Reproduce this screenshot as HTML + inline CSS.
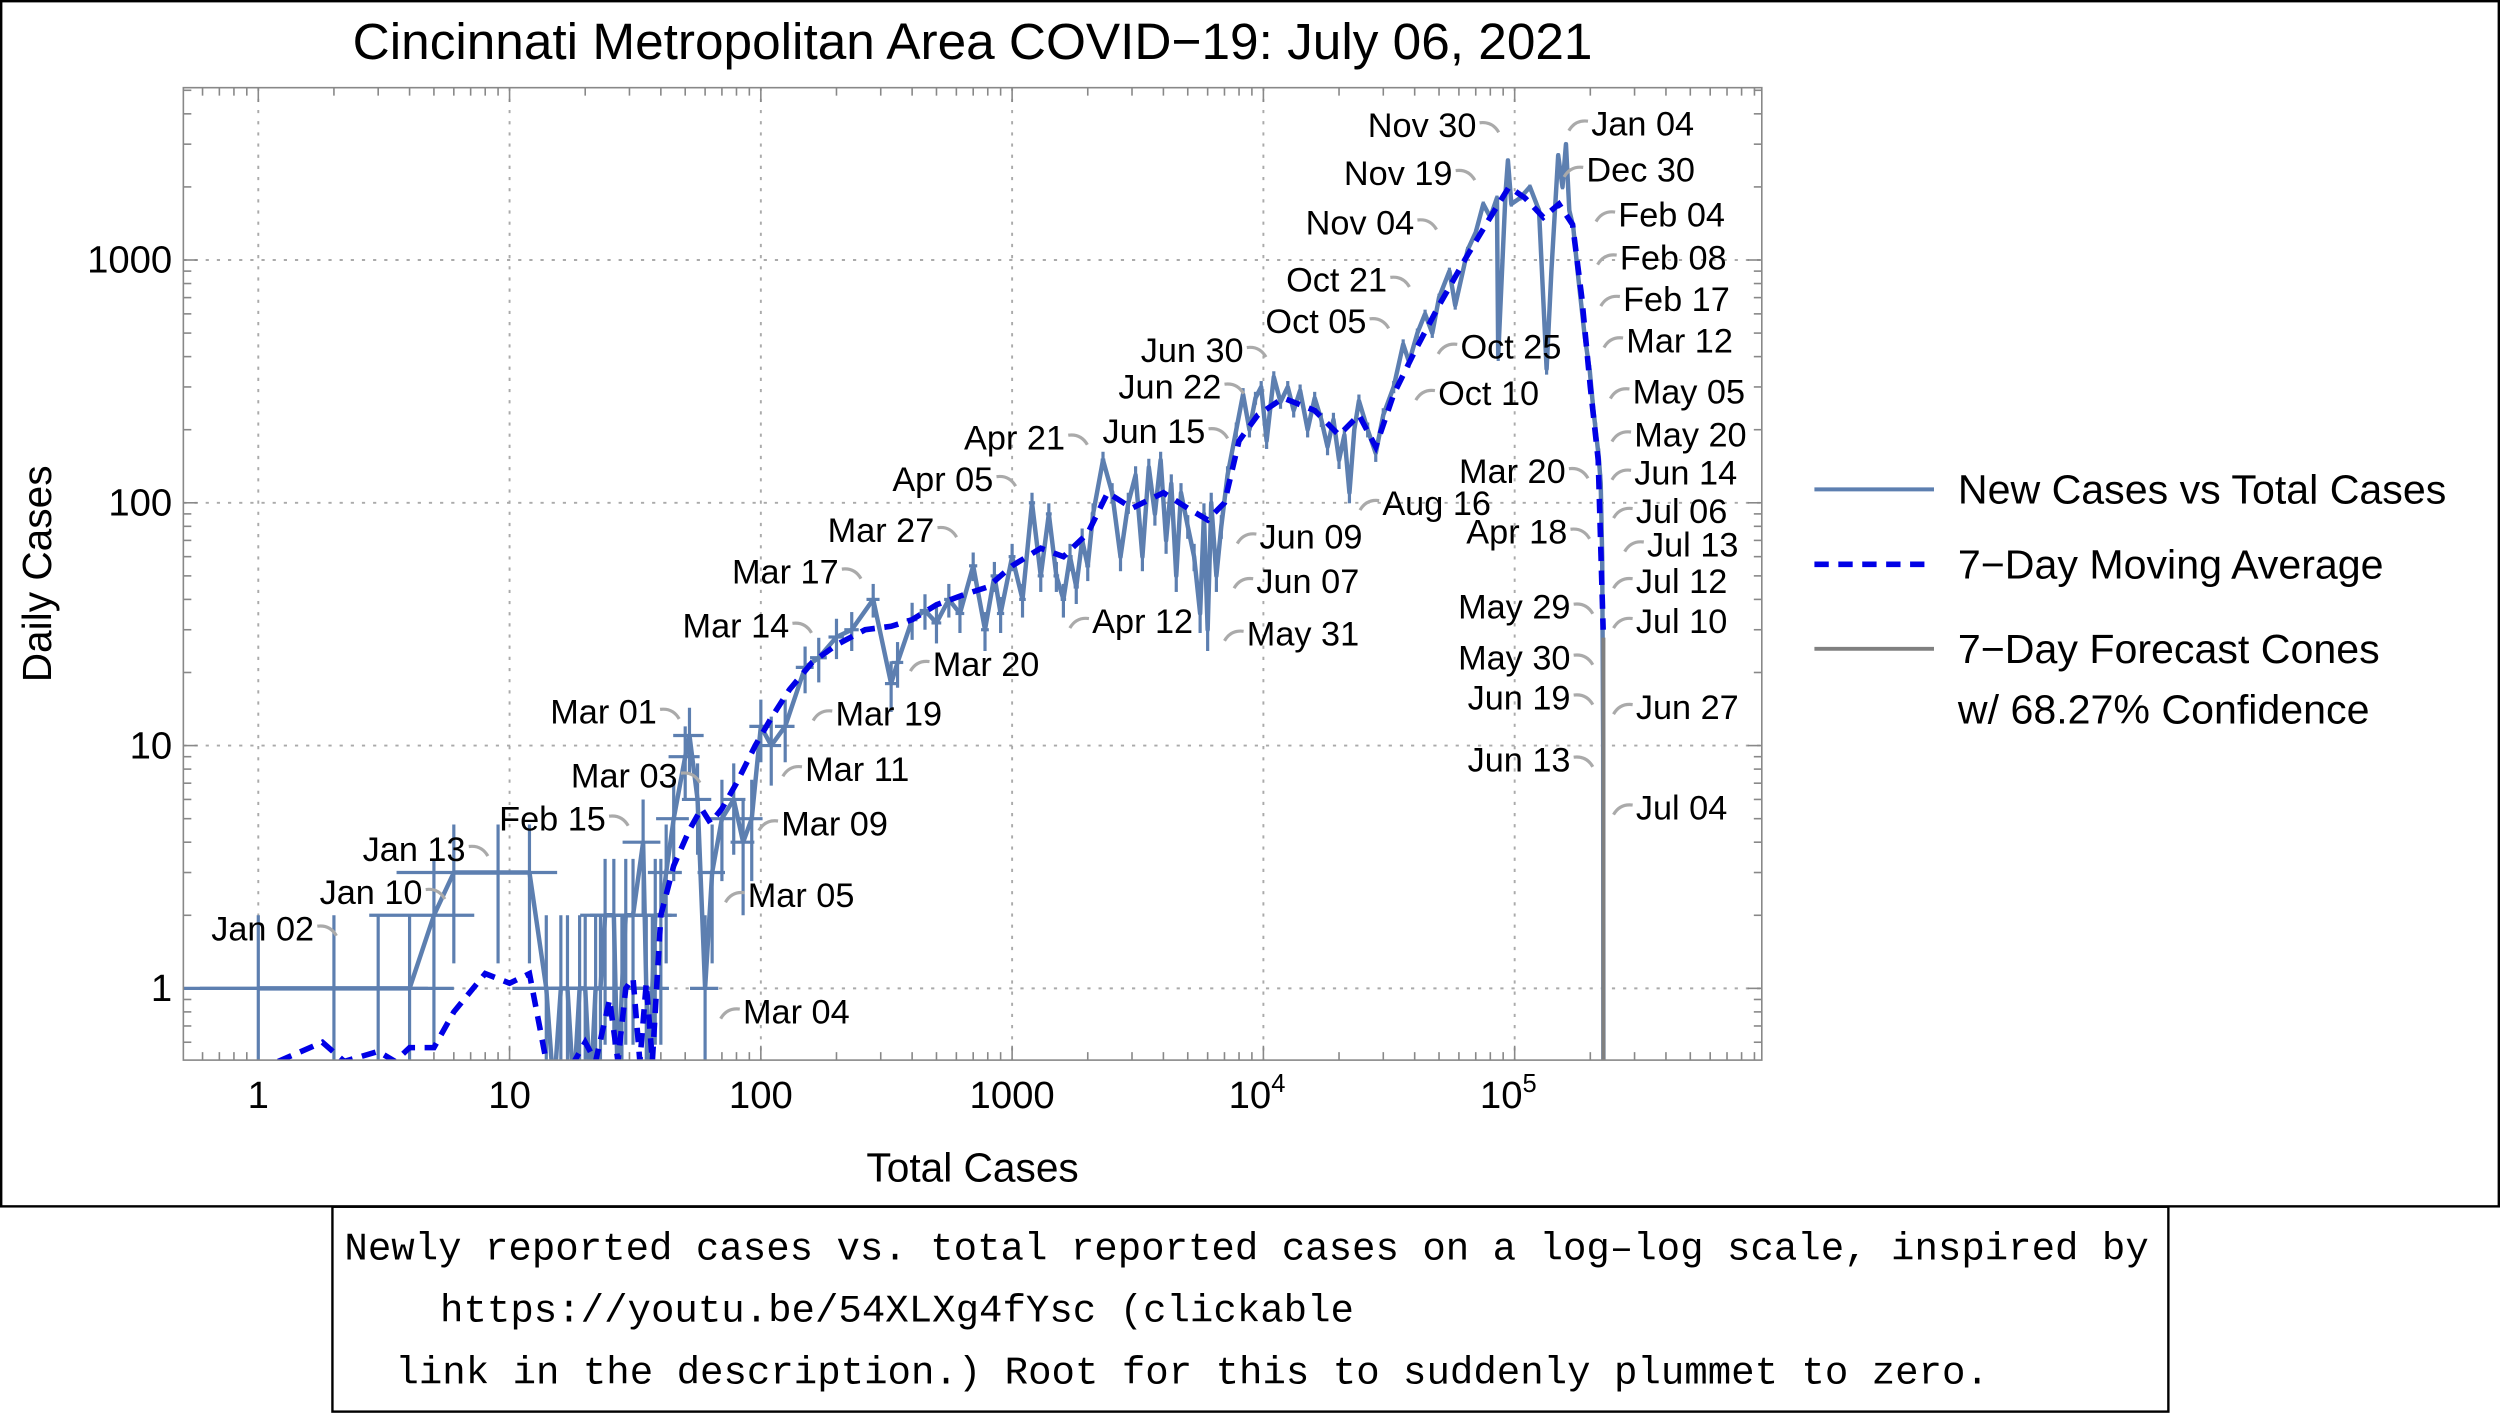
<!DOCTYPE html>
<html><head><meta charset="utf-8"><style>
html,body{margin:0;padding:0;background:#fff}
svg{display:block}
text{font-family:"Liberation Sans",sans-serif}
</style></head><body>
<svg id="chart" width="2500" height="1414" viewBox="0 0 1568 887" preserveAspectRatio="none" xmlns="http://www.w3.org/2000/svg">
<rect x="0" y="0" width="1568" height="887" fill="#fff"/>
<rect x="0.75" y="0.75" width="1566.5" height="756" fill="none" stroke="#000" stroke-width="1.5"/>
<text x="610" y="37" font-size="32.2" text-anchor="middle">Cincinnati Metropolitan Area COVID−19: July 06, 2021</text>
<defs><clipPath id="pc"><rect x="115" y="55" width="990" height="610"/></clipPath></defs>
<g id="grid"></g>
<g id="ticks"></g>
<g id="series" clip-path="url(#pc)"></g>
<g id="labels"></g>
<rect x="115" y="55" width="990" height="610" fill="none" stroke="#888" stroke-width="1"/>
<text x="610" y="741" font-size="25.5" text-anchor="middle">Total Cases</text>
<text x="0" y="0" font-size="25.5" text-anchor="middle" transform="translate(32,360) rotate(-90)">Daily Cases</text>
<g>
<line x1="1138" y1="307" x2="1213" y2="307" stroke="#5d7fb0" stroke-width="2.5"/>
<text x="1228" y="316" font-size="25.8">New Cases vs Total Cases</text>
<line x1="1138" y1="354" x2="1213" y2="354" stroke="#0000e6" stroke-width="3.5" stroke-dasharray="9,6"/>
<text x="1228" y="363" font-size="25.8">7−Day Moving Average</text>
<line x1="1138" y1="407" x2="1213" y2="407" stroke="#808080" stroke-width="2.5"/>
<text x="1228" y="416" font-size="25.8">7−Day Forecast Cones</text>
<text x="1228" y="454" font-size="25.8">w/ 68.27% Confidence</text>
</g>
<rect x="208.5" y="757" width="1151.5" height="128.5" fill="none" stroke="#000" stroke-width="1.5"/>
<g font-size="24.5">
<text x="216" y="790" style="font-family:'Liberation Mono',monospace">Newly reported cases vs. total reported cases on a log–log scale, inspired by</text>
<text x="276" y="829" style="font-family:'Liberation Mono',monospace">https://youtu.be/54XLXg4fYsc (clickable</text>
<text x="248" y="868" style="font-family:'Liberation Mono',monospace">link in the description.) Root for this to suddenly plummet to zero.</text>
</g>
</svg>
<script>
// ---- data ----
const totals = [1,2,3,4,5,6,9,12,14,15,16,17,18,19,20,21,22,23,24,26,27,28,29,31,34,35,36,37,38,40,42,45,50,52,56,60,64,70,78,85,92,100,110,125,150,170,200,230,280,330,350,400,450,500,560,620,700,780,850,900,1000,1100,1200,1300,1400,1500,1600,1700,1800,1900,2000,2100,2300,2500,2700,2900,3100,3300,3500,3700,3900,4100,4300,4500,4700,5000,5300,5600,5800,6000,6200,6500,6800,7200,7800,8300,8800,9300,9800,10300,11000,11700,12500,13200,14000,15000,16000,17000,18000,19000,20000,21000,22000,23000,24000,26000,28000,30000,33000,36000,38000,41000,44000,47000,50000,55000,58000,65000,70000,75000,80000,85000,86000,92000,94000,97000,105000,115000,125000,134000,140000,149000,155000,160000,165000,171000,178000,190000,199000,205000,210000,216000,220000,223000,225000,225500];
const newCases = [1,1,1,1,2,3,3,3,1,0,1,1,0,1,1,0,1,1,2,2,0,1,2,2,4,1,0,1,2,2,3,5,9,11,6,1,3,5,6,4,5,12,10,12,21,23,28,30,40,18,22,33,36,32,40,35,55,30,50,35,60,40,100,50,90,50,40,60,45,70,55,90,150,110,60,100,130,60,140,90,150,70,120,50,110,80,60,35,90,30,100,50,80,130,200,280,200,270,300,180,330,260,300,240,290,200,270,220,170,220,150,190,110,200,263,200,160,230,300,450,380,500,600,500,700,900,650,1100,1300,1700,1500,1800,404,1900,2570,1700,1800,2000,1600,356,900,2700,2000,3000,1600,1370,900,485,350,250,200,155,120,60,10,0];
const avgTotals = [1.2,1.8,2.2,3,3.5,4,5,6,8,10,12,14,16,20,22,25,27,29,31,33,35,37,40,45,52,58,63,70,80,95,110,130,160,200,260,330,400,500,650,800,1000,1300,1600,2000,2400,3000,4000,5000,6000,7000,8000,9500,12000,16000,20000,24000,28000,33000,40000,50000,65000,80000,95000,110000,130000,150000,170000,185000,200000,215000,225000];
const avgCases = [0.5,0.6,0.5,0.55,0.5,0.57,0.57,0.8,1.15,1.05,1.15,0.5,0.4,0.6,0.5,0.9,0.5,1.0,1.1,0.5,1.05,0.5,2,3.2,4.5,5.5,4.8,5.5,7,10,13,17,22,26,30,31,33,38,42,45,55,65,60,75,110,95,110,95,85,100,180,230,270,240,190,230,170,280,420,650,1050,1500,2000,1800,1500,1700,1400,700,300,150,30];
const xTickLabels = ["1","10","100","1000","10^4","10^5"];
const yTickLabels = ["1","10","100","1000"];
const pointLabels = [
 ["Jan 02",197,590,"e"],["Jan 10",265,567,"e"],["Jan 13",292,540,"e"],["Feb 15",380,521,"e"],
 ["Mar 01",412,454,"e"],["Mar 03",425,494,"e"],["Mar 14",495,400,"e"],["Mar 17",526,366,"e"],
 ["Mar 27",586,340,"e"],["Apr 05",623,308,"e"],["Apr 21",668,282,"e"],["Jun 15",756,278,"e"],
 ["Jun 22",766,250,"e"],["Jun 30",780,227,"e"],["Oct 05",857,209,"e"],["Oct 21",870,183,"e"],
 ["Nov 04",887,147,"e"],["Nov 19",911,116,"e"],["Nov 30",926,86,"e"],["Mar 20",982,303,"e"],
 ["Apr 18",983,341,"e"],["May 29",985,388,"e"],["May 30",985,420,"e"],["Jun 19",985,445,"e"],
 ["Jun 13",985,484,"e"],
 ["Mar 04",466,642,"s"],["Mar 05",469,569,"s"],["Mar 09",490,524,"s"],["Mar 11",505,490,"s"],
 ["Mar 19",524,455,"s"],["Mar 20",585,424,"s"],["Apr 12",685,397,"s"],["May 31",782,405,"s"],
 ["Jun 07",788,372,"s"],["Jun 09",790,344,"s"],["Aug 16",867,323,"s"],["Oct 10",902,254,"s"],
 ["Oct 25",916,225,"s"],["Jan 04",998,85,"s"],["Dec 30",995,114,"s"],["Feb 04",1015,142,"s"],
 ["Feb 08",1016,169,"s"],["Feb 17",1018,195,"s"],["Mar 12",1020,221,"s"],["May 05",1024,253,"s"],
 ["May 20",1025,280,"s"],["Jun 14",1025,304,"s"],["Jul 06",1026,328,"s"],["Jul 13",1033,349,"s"],
 ["Jul 12",1026,372,"s"],["Jul 10",1026,397,"s"],["Jun 27",1026,451,"s"],["Jul 04",1026,514,"s"]
];
// ---- axes ----
const NS="http://www.w3.org/2000/svg";
const X0=115,X1=1105,Y0=55,Y1=665;
const xs=v=>162+157.6*Math.log10(v);
const ys=v=>v<=0?Y1+20:620-152.3*Math.log10(v);
function mk(tag,attrs,parent){const e=document.createElementNS(NS,tag);for(const k in attrs)e.setAttribute(k,attrs[k]);parent.appendChild(e);return e;}
const grid=document.getElementById('grid'),ticks=document.getElementById('ticks'),series=document.getElementById('series'),labels=document.getElementById('labels');
for(let d=-1;d<=6;d++){for(let m=1;m<=9;m++){const v=m*Math.pow(10,d);const x=xs(v);if(x<X0||x>X1)continue;const L=m===1?9:5;
 mk('line',{x1:x,y1:Y1,x2:x,y2:Y1-L,stroke:'#888','stroke-width':1},ticks);mk('line',{x1:x,y1:Y0,x2:x,y2:Y0+L,stroke:'#888','stroke-width':1},ticks);
 if(m===1&&d>=0&&d<=5){mk('line',{x1:x,y1:Y0,x2:x,y2:Y1,stroke:'#aaa','stroke-width':1.2,'stroke-dasharray':'2,5'},grid);}}}
for(let d=-1;d<=4;d++){for(let m=1;m<=9;m++){const v=m*Math.pow(10,d);const y=ys(v);if(y<Y0||y>Y1)continue;const L=m===1?9:5;
 mk('line',{x1:X0,y1:y,x2:X0+L,y2:y,stroke:'#888','stroke-width':1},ticks);mk('line',{x1:X1,y1:y,x2:X1-L,y2:y,stroke:'#888','stroke-width':1},ticks);
 if(m===1&&d>=0&&d<=3){mk('line',{x1:X0,y1:y,x2:X1,y2:y,stroke:'#aaa','stroke-width':1.2,'stroke-dasharray':'2,5'},grid);}}}
xTickLabels.forEach((t,i)=>{const x=xs(Math.pow(10,i));const el=mk('text',{x:x,y:695,'font-size':24,'text-anchor':'middle'},ticks);
 
 
 if(t.indexOf('^')>0){const p=t.split('^');el.textContent=p[0];const s=mk('tspan',{'font-size':16,dy:-10},el);s.textContent=p[1];el.setAttribute('x',x-4);}else el.textContent=t;});
yTickLabels.forEach((t,i)=>{const el=mk('text',{x:108,y:ys(Math.pow(10,i))+8,'font-size':24,'text-anchor':'end'},ticks);
 
 
 el.textContent=t;});
const eb=mk('g',{},series);


totals.forEach((t,i)=>{const n=newCases[i];if(n<=0)return;const x=xs(t),y=ys(n);const s=Math.sqrt(n),sx=Math.sqrt(t);
 mk('line',{x1:x,y1:ys(n+s),x2:x,y2:ys(Math.max(n-s,0.01)),stroke:'#5d7fb0','stroke-width':2},eb);
 mk('line',{x1:xs(Math.max(t-sx,0.01)),y1:y,x2:xs(t+sx),y2:y,stroke:'#5d7fb0','stroke-width':2},eb);});
const pl=mk('polyline',{points:totals.map((t,i)=>xs(t)+','+ys(newCases[i])).join(' '),fill:'none',stroke:'#5d7fb0','stroke-width':2.8,'stroke-linejoin':'round'},series);


const fc=mk('line',{x1:xs(totals[totals.length-1]),y1:400,x2:xs(totals[totals.length-1]),y2:Y1,stroke:'#808080','stroke-width':2.5},series);


const ma=mk('polyline',{points:avgTotals.map((t,i)=>xs(t)+','+ys(avgCases[i])).join(' '),fill:'none',stroke:'#0000e6','stroke-width':3.5,'stroke-dasharray':'9,6'},series);


pointLabels.forEach(p=>{const [t,x,y,a]=p;const el=mk('text',{x:x,y:y,'font-size':21.5,'text-anchor':a==='e'?'end':'start'},labels);
 
 
 el.textContent=t;
 const d=a==='e'?`M${x+2},${y-9} q8,-1 12,6`:`M${x-2},${y-9} q-8,-1 -12,6`;
 const ld=mk('path',{d:d,fill:'none',stroke:'#aaa','stroke-width':2},labels);
 
 });
</script>
</body></html>
